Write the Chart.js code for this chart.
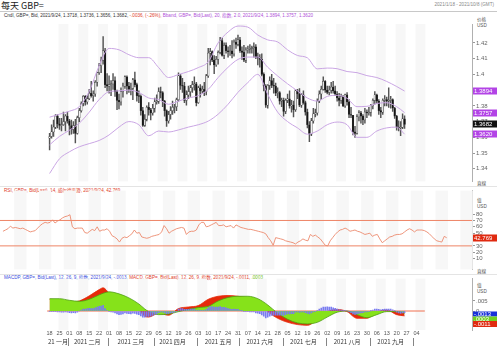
<!DOCTYPE html>
<html>
<head>
<meta charset="utf-8">
<script src="https://cdn.jsdelivr.net/npm/chart.js@4.4.1/dist/chart.umd.min.js"></script>
<style>
  body { margin: 0; width: 497px; height: 353px; overflow: hidden; position: relative; background: #fff;
         font-family: "Liberation Sans", "Noto Sans CJK SC", sans-serif; }
  canvas { position: absolute; left: 0; }
  .t { position: absolute; white-space: nowrap; font-size: 4.6px; line-height: 6px; color: #333; }
  .hr { position: absolute; left: 0; width: 497px; height: 1px; background: #c8c8c8; }
</style>
</head>
<body>
<div class="t" style="left:1px;top:0px;font-size:9px;line-height:11px;color:#222;font-family:'Noto Sans CJK SC',sans-serif">每天 GBP=</div>
<div class="t" style="right:3px;top:2px;color:#888">2021/1/18 - 2021/10/8 (GMT)</div>
<div class="hr" style="top:11px"></div>
<div class="t" style="left:4px;top:13px">Cndl, GBP=, Bid, 2021/9/24, 1.3718, 1.3736, 1.3656, 1.3682, <span style="color:#e0402a">-.0036, (-.26%),</span> <span style="color:#b050d8">Bband, GBP=, Bid(Last), 20, 指数, 2.0, 2021/9/24, 1.3894, 1.3757, 1.3620</span></div>
<div class="t" style="left:477px;top:17px;color:#555">价格<br>USD</div>
<div class="hr" style="top:186px;background:#e4e4e4"></div>
<div class="t" style="left:4px;top:188px;color:#e0402a">RSI, GBP=, Bid(Last), 14, 威尔德平滑, 2021/9/24, 42.769</div>
<div class="t" style="left:477px;top:198px;color:#555">值<br>USD</div>
<div class="t" style="left:477px;top:181px;color:#555">直線</div>
<div class="t" style="left:477px;top:269px;color:#555">直線</div>
<div class="hr" style="top:274px;background:#e4e4e4"></div>
<div class="t" style="left:4px;top:275px;color:#4050e0">MACDP, GBP=, Bid(Last), 12, 26, 9, 指数, 2021/9/24, -.0013, <span style="color:#e0402a">MACD, GBP=, Bid(Last), 12, 26, 9, 指数, 2021/9/24, -.0011,</span> <span style="color:#70c020">.0003</span></div>
<div class="t" style="left:477px;top:283px;color:#555">值<br>USD</div>

<canvas id="main" width="497" height="174" style="top:12px"></canvas>
<canvas id="rsi" width="497" height="88" style="top:186px"></canvas>
<canvas id="macd" width="497" height="79" style="top:274px"></canvas>

<script>
// ---- daily candles, 2021/1/18 .. 2021/9/24 (one value per trading day) ----
const firstOpen = 1.3595;
const closes = [
  1.3605,1.3635,1.3665,1.3735,1.3685, 1.3675,1.3680,1.3700,1.3735,1.3705,
  1.3675,1.3650,1.3675,1.3625,1.3725, 1.3770,1.3815,1.3860,1.3825,1.3845,
  1.3880,1.3865,1.3875,1.3950,1.4010, 1.4055,1.4090,1.4150,1.3935,1.3925,
  1.3935,1.3940,1.3960,1.3890,1.3835, 1.3825,1.3890,1.3925,1.3985,1.3925,
  1.3905,1.3910,1.3965,1.3935,1.3865, 1.3860,1.3770,1.3675,1.3715,1.3790,
  1.3775,1.3755,1.3785,1.3825,1.3830, 1.3890,1.3885,1.3830,1.3770,1.3705,
  1.3745,1.3770,1.3790,1.3795,1.3840, 1.3990,1.3930,1.3925,1.3835,1.3870,
  1.3890,1.3915,1.3935,1.3940,1.3820, 1.3915,1.3895,1.3905,1.3890,1.3990,
  1.4135,1.4145,1.4090,1.4060,1.4095, 1.4140,1.4215,1.4120,1.4185,1.4150,
  1.4145,1.4150,1.4130,1.4205,1.4190, 1.4220,1.4150,1.4140,1.4090,1.4155,
  1.4160,1.4165,1.4170,1.4175,1.4110, 1.4105,1.4095,1.4000,1.3925,1.3805,
  1.3930,1.3960,1.3930,1.3925,1.3880, 1.3885,1.3830,1.3835,1.3765,1.3835,
  1.3845,1.3800,1.3805,1.3775,1.3895, 1.3875,1.3805,1.3870,1.3820,1.3760,
  1.3680,1.3620,1.3705,1.3750,1.3755, 1.3830,1.3875,1.3905,1.3955,1.3900,
  1.3885,1.3900,1.3920,1.3895,1.3875, 1.3850,1.3835,1.3860,1.3800,1.3870,
  1.3825,1.3745,1.3740,1.3635,1.3625, 1.3730,1.3755,1.3735,1.3710,1.3760,
  1.3755,1.3760,1.3800,1.3835,1.3870, 1.3830,1.3770,1.3760,1.3835,1.3840,
  1.3830,1.3835,1.3840,1.3785,1.3735, 1.3665,1.3660,1.3665,1.3718,1.3682
];
const highs = [
  1.3625,1.3680,1.3710,1.3745,1.3745, 1.3720,1.3720,1.3760,1.3745,1.3760,
  1.3715,1.3710,1.3700,1.3715,1.3735, 1.3785,1.3825,1.3865,1.3865,1.3865,
  1.3905,1.3955,1.3895,1.3960,1.4015, 1.4070,1.4110,1.4240,1.4165,1.4005,
  1.3990,1.3960,1.4005,1.3985,1.3900, 1.3875,1.3915,1.3945,1.3990,1.3990,
  1.3950,1.3945,1.3975,1.4015,1.3945, 1.3895,1.3870,1.3790,1.3745,1.3800,
  1.3820,1.3785,1.3810,1.3850,1.3870, 1.3915,1.3920,1.3890,1.3835,1.3775,
  1.3765,1.3795,1.3830,1.3810,1.3850, 1.4010,1.4000,1.3975,1.3950,1.3895,
  1.3925,1.3930,1.3955,1.3985,1.3950, 1.3925,1.3935,1.3925,1.3950,1.4000,
  1.4165,1.4165,1.4150,1.4120,1.4115, 1.4150,1.4235,1.4230,1.4200,1.4200,
  1.4175,1.4185,1.4215,1.4220,1.4230, 1.4250,1.4235,1.4175,1.4185,1.4170,
  1.4180,1.4190,1.4180,1.4200,1.4190, 1.4135,1.4125,1.4130,1.4010,1.3935,
  1.3935,1.3985,1.4000,1.3975,1.3945, 1.3915,1.3890,1.3850,1.3850,1.3845,
  1.3875,1.3895,1.3835,1.3830,1.3905, 1.3905,1.3910,1.3880,1.3895,1.3830,
  1.3780,1.3700,1.3720,1.3785,1.3780, 1.3845,1.3895,1.3925,1.3985,1.3960,
  1.3925,1.3925,1.3950,1.3955,1.3925, 1.3890,1.3880,1.3875,1.3865,1.3875,
  1.3885,1.3840,1.3790,1.3740,1.3670, 1.3745,1.3770,1.3765,1.3745,1.3785,
  1.3775,1.3790,1.3810,1.3845,1.3890, 1.3875,1.3840,1.3790,1.3845,1.3865,
  1.3855,1.3915,1.3860,1.3845,1.3790, 1.3740,1.3705,1.3700,1.3750,1.3736
];
const lows = [
  1.3520,1.3595,1.3605,1.3655,1.3660, 1.3650,1.3640,1.3675,1.3640,1.3690,
  1.3615,1.3620,1.3625,1.3565,1.3620, 1.3700,1.3760,1.3800,1.3805,1.3810,
  1.3840,1.3855,1.3830,1.3860,1.3925, 1.4000,1.4010,1.4065,1.3915,1.3895,
  1.3880,1.3865,1.3905,1.3860,1.3775, 1.3780,1.3805,1.3855,1.3910,1.3875,
  1.3885,1.3870,1.3840,1.3920,1.3830, 1.3820,1.3740,1.3670,1.3670,1.3705,
  1.3740,1.3710,1.3740,1.3760,1.3810, 1.3815,1.3850,1.3795,1.3735,1.3670,
  1.3690,1.3715,1.3745,1.3755,1.3770, 1.3830,1.3905,1.3885,1.3820,1.3805,
  1.3845,1.3860,1.3885,1.3900,1.3800, 1.3815,1.3855,1.3880,1.3865,1.3870,
  1.3980,1.4060,1.4080,1.4005,1.4050, 1.4065,1.4130,1.4115,1.4100,1.4135,
  1.4110,1.4120,1.4105,1.4115,1.4165, 1.4180,1.4140,1.4095,1.4080,1.4075,
  1.4135,1.4135,1.4135,1.4110,1.4100, 1.4060,1.4045,1.3990,1.3895,1.3790,
  1.3785,1.3905,1.3915,1.3880,1.3865, 1.3850,1.3810,1.3795,1.3735,1.3750,
  1.3820,1.3785,1.3760,1.3730,1.3765, 1.3845,1.3795,1.3790,1.3810,1.3740,
  1.3660,1.3572,1.3610,1.3690,1.3730, 1.3740,1.3820,1.3840,1.3900,1.3885,
  1.3875,1.3870,1.3880,1.3880,1.3865, 1.3830,1.3800,1.3815,1.3795,1.3790,
  1.3805,1.3725,1.3725,1.3615,1.3600, 1.3620,1.3705,1.3690,1.3680,1.3690,
  1.3725,1.3740,1.3735,1.3780,1.3810, 1.3815,1.3745,1.3725,1.3745,1.3800,
  1.3800,1.3790,1.3785,1.3765,1.3720, 1.3645,1.3640,1.3610,1.3655,1.3656
];

// ---- Bollinger band (20, exp, 2.0) ----
const bandDays  = [0,5,10,15,20,25,30,35,40,45,50,55,60,65,70,75,80,85,90,95,100,105,110,115,120,125,130,135,140,145,150,155,160,165,170,175,179];
const bandUpper = [1.3728,1.3747,1.3766,1.3795,1.3892,1.4055,1.4165,1.4156,1.4125,1.4106,1.4106,1.4043,1.3980,1.3999,1.4018,1.4043,1.4080,1.4200,1.4269,1.4307,1.4300,1.4250,1.4219,1.4206,1.4156,1.4120,1.4105,1.4035,1.4040,1.4036,1.4018,1.4011,1.3992,1.3980,1.3955,1.3923,1.3894];
const bandMid   = [1.3552,1.3606,1.3645,1.3690,1.3760,1.3840,1.3890,1.3895,1.3900,1.3885,1.3850,1.3840,1.3810,1.3830,1.3850,1.3865,1.3905,1.3980,1.4045,1.4095,1.4110,1.4110,1.4045,1.3990,1.3940,1.3895,1.3850,1.3830,1.3860,1.3867,1.3848,1.3795,1.3797,1.3815,1.3820,1.3795,1.3757];
const bandLower = [1.3370,1.3464,1.3508,1.3540,1.3560,1.3580,1.3615,1.3665,1.3700,1.3680,1.3610,1.3640,1.3634,1.3647,1.3665,1.3680,1.3703,1.3747,1.3810,1.3886,1.3948,1.4000,1.3873,1.3760,1.3700,1.3660,1.3620,1.3640,1.3680,1.3697,1.3680,1.3600,1.3600,1.3640,1.3660,1.3665,1.3620];

// ---- RSI 14, daily ----
const rsi = [
  53,55,57,61,58,59,58,57,58,56, 54,52,53,54,58,62,65,67,66,67,
  71,66,69,71,74,76,77,79,60,57, 58,58,58,51,50,53,56,54,60,53,
  55,55,57,53,46,44,41,36,42,44, 43,46,49,55,50,51,44,43,42,43,
  45,46,47,48,52,62,57,50,53,55, 57,58,59,58,48,52,53,53,55,63,
  67,67,60,61,63,65,67,62,62,63, 60,61,62,58,63,61,59,58,57,56,
  56,55,54,53,52,51,49,43,38,31, 43,42,41,40,38,37,36,35,33,36,
  38,41,39,38,48,45,47,44,41,36, 31,30,38,43,48,52,55,56,58,56,
  53,54,55,53,52,50,48,49,50,45, 47,48,41,35,38,41,44,45,47,48,
  48,49,52,55,57,55,52,55,55,55, 54,52,49,45,41,38,37,36,45,42.769
];
const rsiLevels = [70, 30];

// ---- MACD 12/26/9 ----
const macdDays   = [0,5,10,15,20,25,27,30,35,40,45,48,50,55,60,65,70,75,80,85,90,95,100,105,110,115,120,125,130,135,140,145,150,155,160,165,170,175,179];
const macdLine   = [.0058,.0055,.0045,.0050,.0075,.0106,.0115,.0090,.0073,.0045,.0005,-.0026,-.0030,-.0011,-.0021,.0012,.0020,.0027,.0058,.0073,.0077,.0073,.0065,.0050,-.0003,-.0036,-.0056,-.0067,-.0071,-.0041,-.0003,.0008,-.0003,-.0036,-.0036,-.0006,.0005,-.0018,-.0024];
const signalLine = [.0061,.0061,.0053,.0048,.0058,.0080,.0088,.0095,.0085,.0065,.0035,.0010,-.0003,-.0018,-.0015,-.0003,.0008,.0017,.0023,.0050,.0067,.0073,.0073,.0061,.0030,-.0011,-.0041,-.0059,-.0064,-.0056,-.0030,-.0006,.0000,-.0018,-.0033,-.0018,-.0003,-.0003,-.0011];
const histogram = [
  -.0002,-.0002,-.0003,-.0003,-.0004, -.0005,-.0006,-.0006,-.0005,-.0006,
  -.0008,-.0009,-.0008,-.0010,-.0006, .0000,.0005,.0010,.0010,.0012,
  .0013,.0012,.0012,.0016,.0020, .0023,.0025,.0028,.0012,.0003,
  -.0002,-.0005,-.0006,-.0010,-.0015, -.0018,-.0017,-.0015,-.0010,-.0012,
  -.0013,-.0014,-.0011,-.0012,-.0016, -.0018,-.0024,-.0030,-.0030,-.0027,
  -.0027,-.0026,-.0022,-.0017,-.0014, -.0008,-.0005,-.0006,-.0009,-.0013,
  -.0012,-.0010,-.0008,-.0006,-.0002, .0010,.0012,.0012,.0008,.0008,
  .0008,.0009,.0010,.0010,.0004, .0005,.0004,.0004,.0003,.0008,
  .0016,.0021,.0022,.0020,.0020, .0020,.0022,.0018,.0018,.0016,
  .0012,.0010,.0008,.0009,.0008, .0008,.0004,.0001,-.0003,-.0002,
  -.0003,-.0004,-.0004,-.0005,-.0009, -.0011,-.0013,-.0019,-.0026,-.0034,
  -.0030,-.0025,-.0022,-.0020,-.0020, -.0020,-.0021,-.0020,-.0022,-.0018,
  -.0015,-.0014,-.0013,-.0013,-.0006, -.0005,-.0007,-.0004,-.0005,-.0008,
  -.0012,-.0015,-.0010,-.0005,-.0002, .0004,.0010,.0015,.0020,.0020,
  .0021,.0020,.0019,.0016,.0013, .0009,.0006,.0005,.0001,.0002,
  .0000,-.0005,-.0008,-.0014,-.0017, -.0015,-.0012,-.0010,-.0008,-.0005,
  -.0004,-.0002,.0001,.0005,.0009, .0010,.0008,.0006,.0008,.0009,
  .0009,.0010,.0010,.0006,.0001, -.0006,-.0010,-.0012,-.0009,-.0008
];

// ---- axis text ----
const tickLabels = ["18","25","01","08","15","22","01","08","15","22","29","05","12","19","26","03","10","17","24","31","07","14","21","28","05","12","19","26","02","09","16","23","30","06","13","20","27","04"];
const monthNames = ["21 一月","2021 二月","2021 三月","2021 四月","2021 五月","2021 六月","2021 七月","2021 八月","2021 九月"];
const monthMid   = [4.2,19,41,62,85,106,128,150,172];
const monthEdge  = [9.5,29.5,52.5,74.5,95.5,117.5,139.5,161.5,183.5];
const priceTicks = [1.34,1.35,1.36,1.37,1.38,1.39,1.40,1.41,1.42];
const rsiTicks   = [10,20,30,40,50,60,70,80];
const macdTicks  = [-.005,0,.005];

const opens = closes.map((c, i) => i === 0 ? firstOpen : closes[i - 1]);

const X_MIN = -1.2, X_MAX = 189.2;
const AXIS_W = 25;
const TICK_FONT = { family: "Liberation Sans", size: 6 };

// grey/white weekly columns behind every panel
const stripes = {
  id: "stripes",
  beforeDatasetsDraw(chart) {
    const { ctx, chartArea: a, scales: { x } } = chart;
    ctx.save();
    ctx.fillStyle = "#f7f7f7";
    for (let w = 0; w < 38; w++) {
      if (w % 2 === 0) continue;
      const l = x.getPixelForValue(w * 5 - 0.5), r = x.getPixelForValue(w * 5 + 4.5);
      ctx.fillRect(l, a.top, r - l, a.bottom - a.top);
    }
    ctx.restore();
  }
};

// value boxes on the right axis (dy nudges a box so they do not overlap)
function boxes(list) {
  return {
    id: "boxes",
    afterDraw(chart) {
      const { ctx, scales: { y }, chartArea: a } = chart;
      ctx.save();
      ctx.font = "6px Liberation Sans";
      ctx.textBaseline = "middle";
      list.forEach(b => {
        const py = Math.round(y.getPixelForValue(b.v)) + (b.dy || 0);
        const h = b.h || 7;
        ctx.fillStyle = b.bg;
        ctx.fillRect(a.right + 1, py - h / 2, AXIS_W - 1, h);
        ctx.fillStyle = b.fg || "#fff";
        ctx.fillText(b.t, a.right + 2, py + 0.5);
      });
      ctx.restore();
    }
  };
}

function yAxis(min, max, ticks, fmt) {
  return {
    position: "right", min, max,
    afterFit: s => { s.width = AXIS_W; },
    afterBuildTicks: s => { s.ticks = ticks.map(v => ({ value: v })); },
    ticks: { callback: fmt, font: TICK_FONT, color: "#666", padding: 1 },
    grid: { drawOnChartArea: false, tickLength: 3, color: "#999" },
    border: { color: "#b0b0b0" }
  };
}

const hiddenX = { type: "linear", min: X_MIN, max: X_MAX, display: false };
const common = { responsive: false, animation: false, events: [], plugins: { legend: { display: false }, tooltip: { enabled: false } } };

// ---------------- price panel ----------------
new Chart(document.getElementById("main"), {
  type: "bar",
  data: {
    datasets: [
      { type: "line", data: bandDays.map((d, i) => ({ x: d, y: bandUpper[i] })), borderColor: "#caa6e4", borderWidth: 1, pointRadius: 0, cubicInterpolationMode: "monotone" },
      { type: "line", data: bandDays.map((d, i) => ({ x: d, y: bandMid[i] })), borderColor: "#caa6e4", borderWidth: 1, pointRadius: 0, cubicInterpolationMode: "monotone" },
      { type: "line", data: bandDays.map((d, i) => ({ x: d, y: bandLower[i] })), borderColor: "#caa6e4", borderWidth: 1, pointRadius: 0, cubicInterpolationMode: "monotone" },
      { data: closes.map((c, i) => ({ x: i, y: [opens[i], c] })), grouped: false, barThickness: 1.7,
        backgroundColor: closes.map((c, i) => c >= opens[i] ? "#f2f2f2" : "#151515"),
        borderColor: "#333", borderWidth: 0.5, borderSkipped: false },
      { data: closes.map((c, i) => ({ x: i, y: [lows[i], highs[i]] })), grouped: false, barThickness: 0.8,
        backgroundColor: "#555" }
    ]
  },
  options: {
    ...common,
    layout: { padding: { top: 12, bottom: 3, left: 0, right: 0 } },
    scales: {
      x: hiddenX,
      y: yAxis(1.332, 1.432, priceTicks, v => String(+v.toFixed(2)))
    }
  },
  plugins: [stripes, boxes([
    { v: 1.3894, t: "1.3894", bg: "#b344e6" },
    { v: 1.3757, t: "1.3757", bg: "#b344e6" },
    { v: 1.3620, t: "1.3620", bg: "#b344e6" },
    { v: 1.3682, t: "1.3682", bg: "#111" }
  ])]
});

// ---------------- RSI panel ----------------
new Chart(document.getElementById("rsi"), {
  type: "line",
  data: {
    datasets: [
      { data: rsi.map((r, i) => ({ x: i, y: r })), borderColor: "#ec8a6e", borderWidth: 0.9, pointRadius: 0 },
      ...rsiLevels.map(l => ({ data: [{ x: X_MIN, y: l }, { x: X_MAX, y: l }], borderColor: "#ee8466", borderWidth: 1, pointRadius: 0 }))
    ]
  },
  options: {
    ...common,
    layout: { padding: 0 },
    scales: { x: hiddenX, y: yAxis(-7, 117, rsiTicks, v => String(v)) }
  },
  plugins: [stripes, boxes([{ v: 42.769, t: "42.769", bg: "#e02a10" }])]
});

// ---------------- MACD panel ----------------
// day numbers and month names under the last panel
const dateRows = {
  id: "dateRows",
  afterDraw(chart) {
    const { ctx, scales: { x }, chartArea: a } = chart;
    ctx.save();
    ctx.textAlign = "center";
    ctx.textBaseline = "middle";
    ctx.font = "5.5px 'Liberation Sans'";
    ctx.fillStyle = "#555";
    tickLabels.forEach((t, i) => ctx.fillText(t, x.getPixelForValue(i * 5), a.bottom + 3));
    ctx.font = "6px 'Noto Sans CJK SC'";
    ctx.fillStyle = "#333";
    monthNames.forEach((m, i) => ctx.fillText(m, x.getPixelForValue(monthMid[i]), a.bottom + 12));
    ctx.strokeStyle = "#666";
    ctx.lineWidth = 0.8;
    monthEdge.forEach(d => {
      const px = Math.round(x.getPixelForValue(d)) + 0.5;
      ctx.beginPath(); ctx.moveTo(px, a.bottom + 8); ctx.lineTo(px, a.bottom + 16); ctx.stroke();
    });
    ctx.restore();
  }
};

new Chart(document.getElementById("macd"), {
  type: "bar",
  data: {
    datasets: [
      { data: histogram.map((h, i) => ({ x: i, y: h })), grouped: false, barThickness: 1, backgroundColor: "#7a7cf0" },
      { type: "line", data: macdDays.map((d, i) => ({ x: d, y: signalLine[i] })), fill: "origin",
        backgroundColor: "#86e21a", borderColor: "#4e9e12", borderWidth: 0.8, pointRadius: 0, cubicInterpolationMode: "monotone" },
      { type: "line", data: macdDays.map((d, i) => ({ x: d, y: macdLine[i] })), fill: "origin",
        backgroundColor: "#e62a0a", borderColor: "#e62a0a", borderWidth: 0.8, pointRadius: 0, cubicInterpolationMode: "monotone" },
      { type: "line", data: [{ x: X_MIN, y: 0 }, { x: X_MAX, y: 0 }], borderColor: "#f07050", borderWidth: 1, pointRadius: 0 }
    ]
  },
  options: {
    ...common,
    layout: { padding: { top: 0, bottom: 23, left: 0, right: 0 } },
    scales: {
      x: hiddenX,
      y: yAxis(-.0094, .01605, macdTicks, v => v === 0 ? "0" : String(v).replace("0.", "."))
    }
  },
  plugins: [stripes, dateRows, boxes([
    { v: 0, t: "-.0013", bg: "#1830d8", dy: 3, h: 5 },
    { v: 0, t: ".0003", bg: "#70d020", dy: 8, h: 5 },
    { v: 0, t: "-.0011", bg: "#e02a10", dy: 13, h: 6 }
  ])]
});
</script>
</body>
</html>
